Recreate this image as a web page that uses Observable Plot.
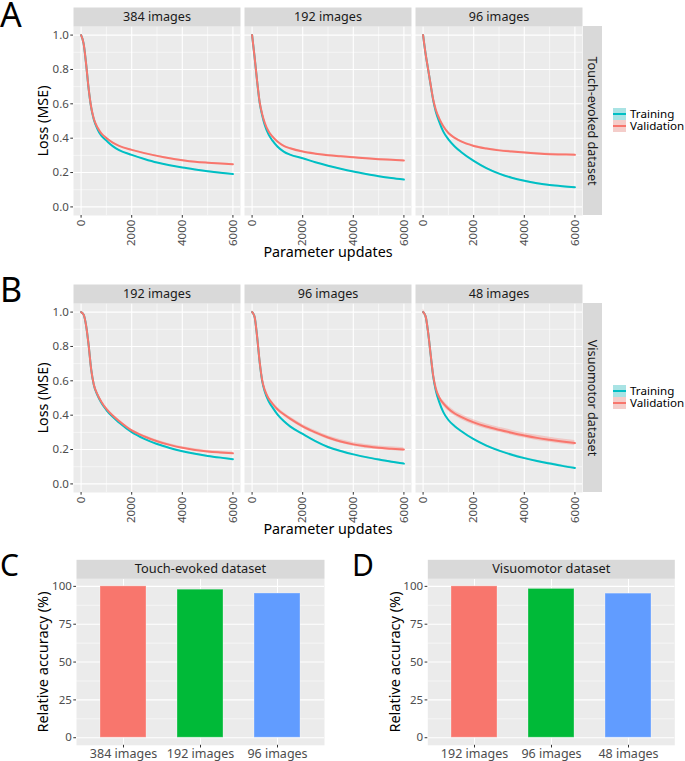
<!DOCTYPE html>
<html><head><meta charset="utf-8">
<script src="https://cdn.jsdelivr.net/npm/d3@7"></script>
<script src="https://cdn.jsdelivr.net/npm/@observablehq/plot@0.6"></script>
<style>
body{margin:0;background:#fff;}
#fig{position:relative;width:685px;height:761px;overflow:hidden;background:#fff;font-family:"Noto Sans",sans-serif;}
.tag{position:absolute;line-height:1;color:#000;font-family:"Noto Sans",sans-serif;}
.pl{position:absolute;}
.legtxt{position:absolute;font-size:11.6px;color:#000;line-height:12px;white-space:nowrap;}
.key{position:absolute;width:13px;height:12px;background:#f2f2f2;}
.key .fillb{position:absolute;left:0;top:0;right:0;bottom:0;}
.key .ln{position:absolute;left:0;right:0;top:5px;height:2px;}
</style></head>
<body><div id="fig"></div>
<script>
// ---------------- data ----------------
const xUpdates = [0,100,200,300,400,500,650,800,1000,1250,1500,2000,2500,3000,3500,4000,4500,5000,5500,6000];

const touchFacets = ["384 images","192 images","96 images"];
const visuoFacets = ["192 images","96 images","48 images"];
const seriesNames = ["Training","Validation"];

const touch384Train = [1.000,0.950,0.830,0.685,0.576,0.510,0.452,0.414,0.386,0.354,0.331,0.303,0.279,0.258,0.242,0.229,0.218,0.208,0.199,0.191];
const touch384Val   = [1.000,0.950,0.830,0.687,0.580,0.515,0.462,0.428,0.401,0.374,0.355,0.332,0.313,0.297,0.283,0.272,0.263,0.257,0.252,0.248];
const touch192Train = [1.000,0.870,0.730,0.605,0.532,0.477,0.422,0.387,0.352,0.322,0.304,0.283,0.260,0.240,0.222,0.206,0.192,0.179,0.168,0.159];
const touch192Val   = [1.000,0.870,0.730,0.610,0.540,0.490,0.440,0.410,0.380,0.355,0.341,0.322,0.310,0.301,0.295,0.289,0.283,0.278,0.274,0.270];
const touch96Train  = [1.000,0.890,0.800,0.708,0.620,0.556,0.491,0.438,0.393,0.352,0.320,0.268,0.226,0.194,0.170,0.152,0.138,0.127,0.120,0.115];
const touch96Val    = [1.000,0.890,0.800,0.710,0.625,0.567,0.511,0.469,0.430,0.402,0.381,0.355,0.340,0.329,0.322,0.316,0.311,0.307,0.305,0.303];

const visuo192Train = [1.000,0.985,0.920,0.805,0.665,0.578,0.516,0.472,0.430,0.390,0.357,0.301,0.262,0.232,0.209,0.190,0.175,0.163,0.153,0.144];
const visuo192Val   = [1.000,0.985,0.920,0.805,0.665,0.580,0.520,0.478,0.436,0.398,0.366,0.311,0.276,0.248,0.227,0.210,0.198,0.189,0.183,0.178];
const visuo96Train  = [1.000,0.972,0.855,0.708,0.598,0.538,0.482,0.447,0.405,0.366,0.335,0.291,0.249,0.215,0.192,0.172,0.156,0.142,0.129,0.118];
const visuo96Val    = [1.000,0.972,0.855,0.710,0.603,0.547,0.498,0.468,0.435,0.405,0.380,0.335,0.300,0.270,0.247,0.230,0.219,0.210,0.205,0.200];
const visuo48Train  = [1.000,0.975,0.880,0.750,0.625,0.545,0.472,0.418,0.372,0.336,0.308,0.260,0.223,0.194,0.170,0.150,0.133,0.119,0.105,0.093];
const visuo48Val    = [1.000,0.975,0.880,0.752,0.630,0.557,0.500,0.469,0.438,0.410,0.390,0.358,0.334,0.315,0.298,0.282,0.268,0.257,0.247,0.238];

// ribbon half-widths per facet
const touchTrainSpread = [0.002,0.002,0.003];
const touchValSpread   = [0.003,0.004,0.005];
const visuoTrainSpread = [0.003,0.004,0.005];
const visuoValSpread   = [0.007,0.011,0.015];

const lossTicks = [0,0.2,0.4,0.6,0.8,1.0];
const lossMinor = [0.1,0.3,0.5,0.7,0.9];
const updTicks = [0,2000,4000,6000];
const updMinor = [1000,3000,5000];

const touchCats = ["384 images","192 images","96 images"];
const touchAcc  = [100, 97.8, 95.3];
const visuoCats = ["192 images","96 images","48 images"];
const visuoAcc  = [100, 98.3, 95.2];
const accTicks = [0,25,50,75,100];
const accMinor = [12.5,37.5,62.5,87.5];

// ---------------- styles ----------------
const FONT = '"Noto Sans", sans-serif';
const TEAL = "#00BFC4", SALMON = "#F8766D";
const barColors = ["#F8766D","#00BA38","#619CFF"];
const PANEL = "#EBEBEB", STRIP = "#D9D9D9";
const major = {stroke: "white", strokeOpacity: 1, strokeWidth: 1.1};
const minor = {stroke: "white", strokeOpacity: 1, strokeWidth: 0.55};

function buildRows(facets, trains, vals, tSpread, vSpread) {
  const rows = [];
  facets.forEach((f, i) => {
    xUpdates.forEach((x, j) => {
      rows.push({facet: f, series: "Training", x, y: trains[i][j], lo: trains[i][j] - tSpread[i], hi: trains[i][j] + tSpread[i]});
    });
    xUpdates.forEach((x, j) => {
      rows.push({facet: f, series: "Validation", x, y: vals[i][j], lo: vals[i][j] - vSpread[i], hi: vals[i][j] + vSpread[i]});
    });
  });
  return rows;
}

function lossPlot(facets, rows, sideLabel) {
  const H = 262, MT = 26, MB = 47;
  const PH = H - MT - MB;
  const last = facets[facets.length - 1];
  return Plot.plot({
    width: 685, height: H,
    marginLeft: 73, marginRight: 103, marginTop: MT, marginBottom: MB,
    style: {fontFamily: FONT, fontSize: "11.5px", background: "transparent", overflow: "visible"},
    fx: {domain: facets, paddingInner: 4/171, paddingOuter: 0, axis: null, label: null},
    x: {domain: [-300, 6300], axis: null, label: null},
    y: {domain: [-0.05, 1.05], axis: null, label: null},
    color: {domain: seriesNames, range: [TEAL, SALMON]},
    marks: [
      Plot.frame({fill: PANEL}),
      Plot.gridX(updMinor, minor),
      Plot.gridY(lossMinor, minor),
      Plot.gridX(updTicks, major),
      Plot.gridY(lossTicks, major),
      Plot.frame({fill: STRIP, insetTop: -19, insetBottom: PH}),
      Plot.text(facets, {fx: d => d, text: d => d, frameAnchor: "top", dy: -9.5, lineAnchor: "middle", fill: "#1A1A1A", fontSize: 12.6}),
      Plot.rect([last], {fx: d => d, fill: STRIP, insetLeft: 168, insetRight: -20}),
      Plot.text([sideLabel], {fx: () => last, text: d => d, frameAnchor: "right", dx: 10, rotate: 90, textAnchor: "middle", lineAnchor: "middle", fill: "#1A1A1A", fontSize: 12.6}),
      Plot.areaY(rows, {fx: "facet", x: "x", y1: "lo", y2: "hi", fill: "series", fillOpacity: 0.3, curve: "monotone-x"}),
      Plot.lineY(rows, {fx: "facet", x: "x", y: "y", stroke: "series", strokeWidth: 2, curve: "monotone-x"}),
      Plot.axisY({ticks: lossTicks, tickFormat: d3.format(".1f"), tickSize: 2.7, tickPadding: 2, stroke: "#333", fill: "#4D4D4D", fontSize: 11.5, label: null}),
      Plot.axisY({ticks: [], label: "Loss (MSE)", labelAnchor: "center", labelArrow: "none", labelOffset: 35.3, fill: "#000", fontSize: 14.3}),
      Plot.axisX({ticks: updTicks, tickFormat: d => String(d), tickRotate: -90, tickSize: 2.7, tickPadding: 1.5, stroke: "#333", fill: "#4D4D4D", fontSize: 11.5, label: null}),
      Plot.axisX({ticks: [], label: "Parameter updates", labelAnchor: "center", labelArrow: "none", labelOffset: 41.5, fill: "#000", fontSize: 14.3})
    ]
  });
}

function barPlot(cats, vals, title, width, ml, mr, labelOffset) {
  const H = 221, MT = 38.3, MB = 16.2;
  const PH = H - MT - MB;
  const rows = cats.map((c, i) => ({cat: c, value: vals[i]}));
  return Plot.plot({
    width, height: H, marginLeft: ml, marginRight: mr, marginTop: MT, marginBottom: MB,
    style: {fontFamily: FONT, fontSize: "11.5px", background: "transparent", overflow: "visible"},
    x: {domain: cats, paddingInner: 0.4, paddingOuter: 0.3, axis: null, label: null},
    y: {domain: [-5, 105], axis: null, label: null},
    color: {domain: cats, range: barColors},
    marks: [
      Plot.frame({fill: PANEL}),
      Plot.gridY(accMinor, minor),
      Plot.gridY(accTicks, major),
      Plot.gridX(cats, major),
      Plot.frame({fill: STRIP, insetTop: -19, insetBottom: PH}),
      Plot.text([title], {text: d => d, frameAnchor: "top", dy: -9.5, lineAnchor: "middle", fill: "#1A1A1A", fontSize: 12.8}),
      Plot.barY(rows, {x: "cat", y: "value", fill: "cat", stroke: "white", strokeOpacity: 0.3, strokeWidth: 1}),
      Plot.axisY({ticks: accTicks, tickSize: 2.7, tickPadding: 2, stroke: "#333", fill: "#4D4D4D", fontSize: 11.5, label: null}),
      Plot.axisY({ticks: [], label: "Relative accuracy (%)", labelAnchor: "center", labelArrow: "none", labelOffset, fill: "#000", fontSize: 14.5}),
      Plot.axisX({tickSize: 2.7, tickPadding: 1, stroke: "#333", fill: "#4D4D4D", fontSize: 12.5, label: null})
    ]
  });
}

// ---------------- layout ----------------
const fig = document.getElementById("fig");
function place(node, left, top) {
  const d = document.createElement("div");
  d.className = "pl"; d.style.left = left + "px"; d.style.top = top + "px";
  d.appendChild(node); fig.appendChild(d);
}
function tag(letter, left, top, size) {
  const d = document.createElement("div");
  d.className = "tag"; d.textContent = letter;
  d.style.left = left + "px"; d.style.top = top + "px"; d.style.fontSize = size + "px";
  fig.appendChild(d);
}
function legend(top) {
  const items = [["Training", TEAL, "rgba(0,191,196,0.3)"], ["Validation", SALMON, "rgba(248,118,109,0.3)"]];
  items.forEach(([name, col, fillc], i) => {
    const k = document.createElement("div");
    k.className = "key"; k.style.left = "613px"; k.style.top = (top + i * 12.4) + "px";
    k.innerHTML = `<div class="fillb" style="background:${fillc}"></div><div class="ln" style="background:${col}"></div>`;
    fig.appendChild(k);
    const t = document.createElement("div");
    t.className = "legtxt"; t.textContent = name;
    t.style.left = "630px"; t.style.top = (top + i * 12.4) + "px";
    fig.appendChild(t);
  });
}

const touchRows = buildRows(touchFacets, [touch384Train, touch192Train, touch96Train], [touch384Val, touch192Val, touch96Val], touchTrainSpread, touchValSpread);
const visuoRows = buildRows(visuoFacets, [visuo192Train, visuo96Train, visuo48Train], [visuo192Val, visuo96Val, visuo48Val], visuoTrainSpread, visuoValSpread);

place(lossPlot(touchFacets, touchRows, "Touch-evoked dataset"), 0, 0);
place(lossPlot(visuoFacets, visuoRows, "Visuomotor dataset"), 0, 277);
place(barPlot(touchCats, touchAcc, "Touch-evoked dataset", 342, 76, 18, 38.3), 0, 540);
place(barPlot(visuoCats, visuoAcc, "Visuomotor dataset", 345, 87.3, 10.7, 38), 340, 540);

legend(108);
legend(385);

tag("A", 0, -3, 34);
tag("B", 0, 272, 34);
tag("C", 0, 550, 30);
tag("D", 352, 550, 30);
</script></body></html>
